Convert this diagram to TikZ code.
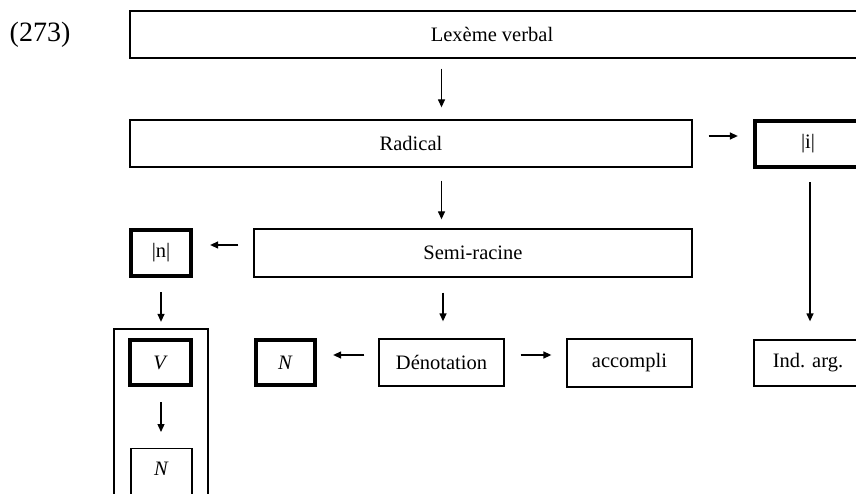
\documentclass[tikz,border=0pt]{standalone}
\usepackage{fontspec}
\setmainfont{Liberation Serif}
\usetikzlibrary{arrows.meta}
\begin{document}
\begin{tikzpicture}[x=1pt,y=-1pt,
  box/.style={draw=black, line width=1.3pt, inner sep=0pt, font=\fontsize{20.5}{24}\selectfont},
  tbox/.style={box, line width=4.3pt},
  arr/.style={line width=1.3pt, -{Triangle[length=8pt,width=7pt]}}]
\useasboundingbox (0,0) rectangle (856,494);
\clip (0,0) rectangle (856,494);
\node[font=\fontsize{28}{32}\selectfont] (num) at (40,35) {(273)};
\node[box, minimum width=730, minimum height=47] (lex) at (495,34.5) {};
\node[font=\fontsize{20.5}{24}\selectfont] (lext) at (492,34.5) {Lexème verbal};
\node[box, minimum width=562, minimum height=47] (rad) at (411,143.5) {Radical};
\node[tbox, minimum width=106, minimum height=46] (i) at (808,144) {|i|};
\node[box, minimum width=438, minimum height=48] (semi) at (473,253) {Semi-racine};
\node[tbox, minimum width=60, minimum height=46] (n) at (161,253) {|n|};
\node[box, minimum width=94, minimum height=200] (outer) at (161,429) {};
\node[tbox, minimum width=61, minimum height=45] (V) at (160.5,362.5) {\textit{V}};
\node[box, minimum width=61, anchor=north, inner ysep=13pt, text depth=60pt] (nb) at (161.5,448) {\textit{N}};
\node[tbox, minimum width=59, minimum height=45] (mn) at (285.5,362.5) {\textit{N}};
\node[box, minimum width=125, minimum height=47] (den) at (441.5,362.5) {Dénotation};
\node[box, minimum width=125, minimum height=48] (acc) at (629.5,363) {accompli};
\node[box, minimum width=108, minimum height=46] (ind) at (808,363) {Ind. arg.};
% helper coordinates
\coordinate (ra) at ([xshift=16pt,yshift=7.5pt]rad.east);
\coordinate (sa) at ([xshift=-15pt,yshift=8pt]semi.west);
\coordinate (dl) at ([xshift=-14pt,yshift=7.5pt]den.west);
\coordinate (dr) at ([xshift=16pt,yshift=7.5pt]den.east);
% arrows
\draw[arr] ([yshift=-10pt]lex.south -| den) -- ([yshift=12pt]rad.north -| den);
\draw[arr] ([yshift=-13pt]rad.south -| den) -- ([yshift=9pt]semi.north -| den);
\draw[arr] ([yshift=-15pt,xshift=1.5pt]semi.south -| den) -- ([yshift=17pt,xshift=1.5pt]den.north);
\draw[arr] (ra) -- ([xshift=-15pt]i.west |- ra);
\draw[arr] ([yshift=-13pt,xshift=2pt]i.south) -- ([yshift=18pt,xshift=2pt]ind.north);
\draw[arr] (sa) -- ([xshift=17pt]n.east |- sa);
\draw[arr] ([yshift=-14pt]n.south) -- ([yshift=16pt]V.north -| n);
\draw[arr] ([yshift=-15pt]V.south -| n) -- ([yshift=16pt]nb.north -| n);
\draw[arr] (dl) -- ([xshift=16pt]mn.east |- dl);
\draw[arr] (dr) -- ([xshift=-15pt]acc.west |- dr);
\end{tikzpicture}
\end{document}
